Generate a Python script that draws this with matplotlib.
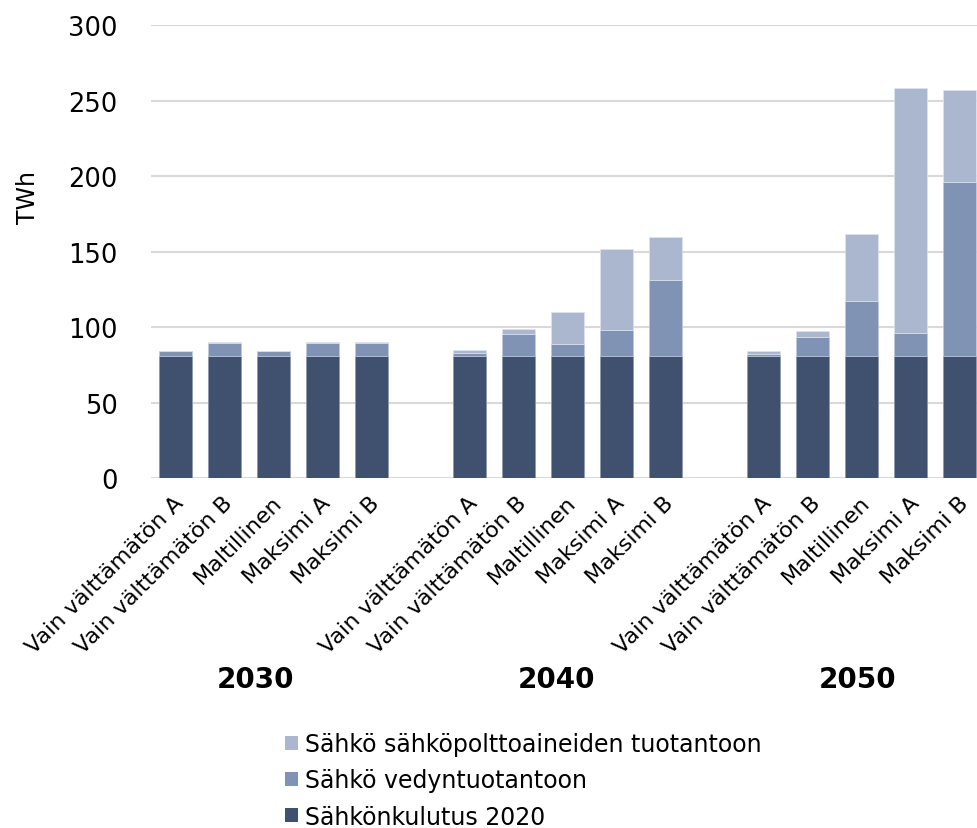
import matplotlib
matplotlib.use("Agg")
import matplotlib.pyplot as plt
from matplotlib.patches import Patch
import matplotlib.transforms as mtransforms

years = ["2030", "2040", "2050"]
scenarios = ["Vain välttämätön A", "Vain välttämätön B", "Maltillinen", "Maksimi A", "Maksimi B"]
series_names = ["Sähkönkulutus 2020", "Sähkö vedyntuotantoon", "Sähkö sähköpolttoaineiden tuotantoon"]

base_2020 = [81, 81, 81, 81, 81,
             81, 81, 81, 81, 81,
             81, 81, 81, 81, 81]
hydrogen = [3.5, 8.5, 3.5, 8.5, 8.5,
            2.0, 14.6, 8.0, 17.2, 50.4,
            1.5, 12.3, 36.6, 15.3, 114.8]
efuels = [0.0, 0.5, 0.0, 0.5, 0.5,
          1.6, 2.9, 21.3, 53.8, 28.5,
          2.0, 4.5, 44.2, 162.0, 61.0]

colors = ["#405170", "#8093B5", "#ABB7CF"]

W, H = 977, 829
fig = plt.figure(figsize=(W / 100, H / 100), dpi=100)
ax = fig.add_axes([151 / W, 1 - 479.3 / H, 1 - 151 / W, (479.3 - 26) / H])

positions = []
labels = []
for g in range(len(years)):
    for s in range(len(scenarios)):
        positions.append(g * (len(scenarios) + 1) + s)
        labels.append(scenarios[s])

bw = 0.67
bottom2 = [a + b for a, b in zip(base_2020, hydrogen)]
ax.bar(positions, base_2020, width=bw, color=colors[0], edgecolor="#8a97b0", linewidth=0.5, zorder=3)
ax.bar(positions, hydrogen, width=bw, bottom=base_2020, color=colors[1], edgecolor="#c0c9da", linewidth=0.5, zorder=3)
ax.bar(positions, efuels, width=bw, bottom=bottom2, color=colors[2], edgecolor="#dfe4ee", linewidth=0.5, zorder=3)

ax.set_xlim(-0.5, 16.35)
ax.set_ylim(0, 300)
ax.set_yticks(range(0, 301, 50))
ax.grid(axis="y", color="#D9D9D9", linewidth=1.5, zorder=0)
for sp in ax.spines.values():
    sp.set_visible(False)
ax.tick_params(axis="y", length=0, labelsize=18.5, pad=24)
ax.tick_params(axis="x", length=0)
ax.set_xticks([])

# category labels
trans = mtransforms.blended_transform_factory(ax.transData, fig.transFigure)
for x, lab in zip(positions, labels):
    ax.text(x + 0.1, 1 - 500 / H, lab, transform=trans, rotation=45,
            ha="right", va="center", rotation_mode="anchor", fontsize=16)

# year labels
year_x = [1.64, 7.78, 13.92]
for xx, yr in zip(year_x, years):
    ax.text(xx, 1 - 680 / H, yr, transform=trans, ha="center", va="center",
            fontsize=20, fontweight="bold")

fig.text(28 / W, 1 - 197 / H, "TWh", rotation=90, ha="center", va="center", fontsize=17)

handles = [Patch(facecolor=colors[i], edgecolor="none") for i in [2, 1, 0]]
names = [series_names[i] for i in [2, 1, 0]]
fig.legend(handles, names, loc="upper left", bbox_to_anchor=(285 / W, 1 - 733 / H),
           frameon=False, fontsize=17, handlelength=0.55, handleheight=0.55,
           handletextpad=0.3, labelspacing=0.52, borderaxespad=0, borderpad=0)

fig.savefig("out.png", dpi=100)
